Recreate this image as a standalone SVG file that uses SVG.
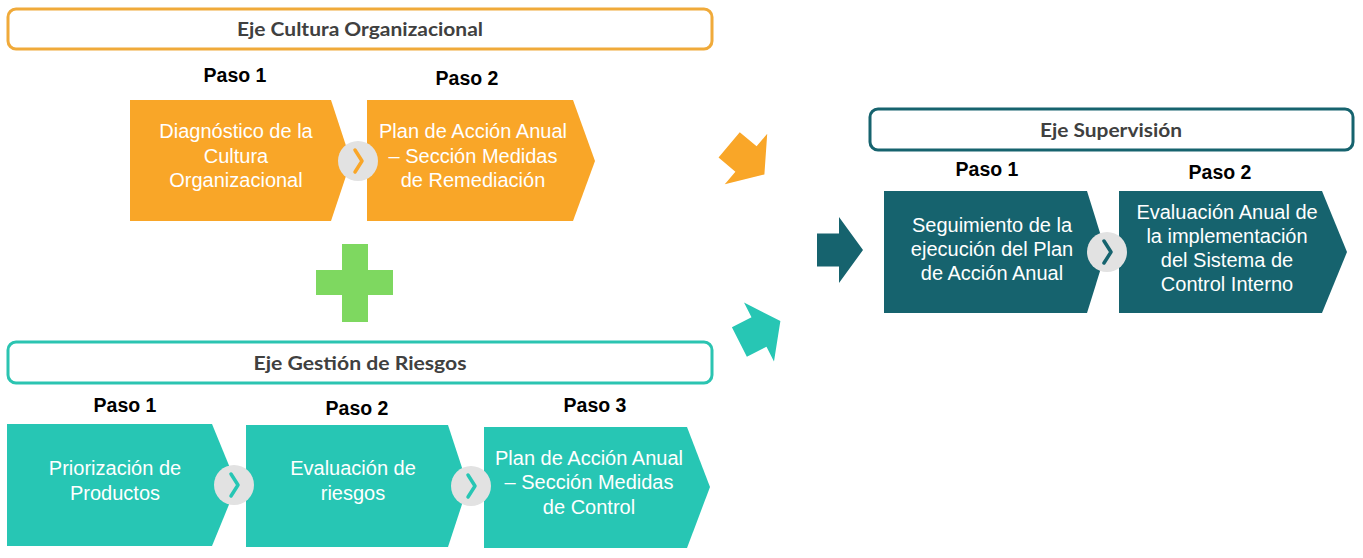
<svg xmlns="http://www.w3.org/2000/svg" width="1363" height="558" viewBox="0 0 1363 558">
<style>
.hdr{fill:#fff;stroke-width:3}
.htxt{font-family:Lato,"Open Sans",sans-serif;font-weight:700;font-size:19px;fill:#404040;text-anchor:middle}
.paso{font-family:"Liberation Sans",Arial,sans-serif;font-weight:700;font-size:19.5px;fill:#000;text-anchor:middle}
.ctxt{font-family:"Liberation Sans",Arial,sans-serif;font-size:20px;fill:#fff;text-anchor:middle}
.circ{fill:#e2e2e2}
.chev{fill:none;stroke-width:3.5;stroke-linecap:round;stroke-linejoin:round}
.or{fill:#f9a628}
.tl{fill:#27c6b4}
.dk{fill:#16636e}
</style>
<defs>
<path id="arr" d="M-22,-16.5 L0,-16.5 L0,-33 L24,0 L0,33 L0,16.5 L-22,16.5 Z"/>
</defs>
<rect width="1363" height="558" fill="#fff"/>

<g id="hdr-cultura">
<rect class="hdr" x="8" y="9" width="704" height="40" rx="8" stroke="#f0aa3a"/>
<text class="htxt" x="360" y="36" textLength="246" lengthAdjust="spacingAndGlyphs">Eje Cultura Organizacional</text>
</g>
<g id="hdr-riesgos">
<rect class="hdr" x="8" y="342" width="704" height="41" rx="8" stroke="#2bc4b1"/>
<text class="htxt" x="360" y="370" textLength="213" lengthAdjust="spacingAndGlyphs">Eje Gestión de Riesgos</text>
</g>
<g id="hdr-supervision">
<rect class="hdr" x="870" y="109" width="483" height="41" rx="8" stroke="#16636e"/>
<text class="htxt" x="1111" y="137" textLength="142" lengthAdjust="spacingAndGlyphs">Eje Supervisión</text>
</g>

<g id="pasos">
<text class="paso" x="235" y="82">Paso 1</text>
<text class="paso" x="467" y="85">Paso 2</text>
<text class="paso" x="125" y="412">Paso 1</text>
<text class="paso" x="357" y="415">Paso 2</text>
<text class="paso" x="595" y="412">Paso 3</text>
<text class="paso" x="987" y="176">Paso 1</text>
<text class="paso" x="1220" y="179">Paso 2</text>
</g>

<g id="co-paso1">
<polygon class="or" points="130,100 331,100 351,161 331,221 130,221"/>
<text class="ctxt" x="236" y="138">Diagnóstico de la</text>
<text class="ctxt" x="236" y="162.5">Cultura</text>
<text class="ctxt" x="236" y="187">Organizacional</text>
</g>
<g id="co-paso2">
<polygon class="or" points="367,100 573,100 595,161 573,221 367,221"/>
<text class="ctxt" x="473" y="138">Plan de Acción Anual</text>
<text class="ctxt" x="473" y="162.5">– Sección Medidas</text>
<text class="ctxt" x="473" y="187">de Remediación</text>
</g>
<g id="co-sep">
<circle class="circ" cx="358" cy="161" r="20"/>
<path class="chev" stroke="#f9a628" d="M355,150 L362,161 L355,172"/>
</g>

<g id="plus">
<path fill="#7ed860" d="M342,244 H368 V270 H393 V295 H368 V322 H342 V295 H316 V270 H342 Z"/>
</g>

<g id="gr-paso1">
<polygon class="tl" points="7,424 212,424 237,485 212,546 7,546"/>
<text class="ctxt" x="115" y="474.5">Priorización de</text>
<text class="ctxt" x="115" y="499.5">Productos</text>
</g>
<g id="gr-paso2">
<polygon class="tl" points="246,425 448,425 468,486 448,547 246,547"/>
<text class="ctxt" x="353" y="474.5">Evaluación de</text>
<text class="ctxt" x="353" y="499.5">riesgos</text>
</g>
<g id="gr-paso3">
<polygon class="tl" points="484,427 687,427 710,487 687,548 484,548"/>
<text class="ctxt" x="589" y="464.5">Plan de Acción Anual</text>
<text class="ctxt" x="589" y="489">– Sección Medidas</text>
<text class="ctxt" x="589" y="513.5">de Control</text>
</g>
<g id="gr-sep">
<circle class="circ" cx="234" cy="485" r="20"/>
<path class="chev" stroke="#27c6b4" d="M231,474 L238,485 L231,496"/>
<circle class="circ" cx="471" cy="486" r="20"/>
<path class="chev" stroke="#27c6b4" d="M468,475 L475,486 L468,497"/>
</g>

<g id="sp-paso1">
<polygon class="dk" points="884,191 1087,191 1106,252 1087,313 884,313"/>
<text class="ctxt" x="992" y="231.5">Seguimiento de la</text>
<text class="ctxt" x="992" y="255.5">ejecución del Plan</text>
<text class="ctxt" x="992" y="279.5">de Acción Anual</text>
</g>
<g id="sp-paso2">
<polygon class="dk" points="1119,191 1322,191 1347,252 1322,313 1119,313"/>
<text class="ctxt" x="1227" y="218.5">Evaluación Anual de</text>
<text class="ctxt" x="1227" y="242.5">la implementación</text>
<text class="ctxt" x="1227" y="266.5">del Sistema de</text>
<text class="ctxt" x="1227" y="290.5">Control Interno</text>
</g>
<g id="sp-sep">
<circle class="circ" cx="1107" cy="252" r="20"/>
<path class="chev" stroke="#16636e" d="M1104,241 L1111,252 L1104,263"/>
</g>

<g id="connectors">
<use href="#arr" class="or" transform="translate(746,159) rotate(40)"/>
<use href="#arr" class="dk" transform="translate(839,250)"/>
<use href="#arr" class="tl" transform="translate(759,332) rotate(-27)"/>
</g>
</svg>
